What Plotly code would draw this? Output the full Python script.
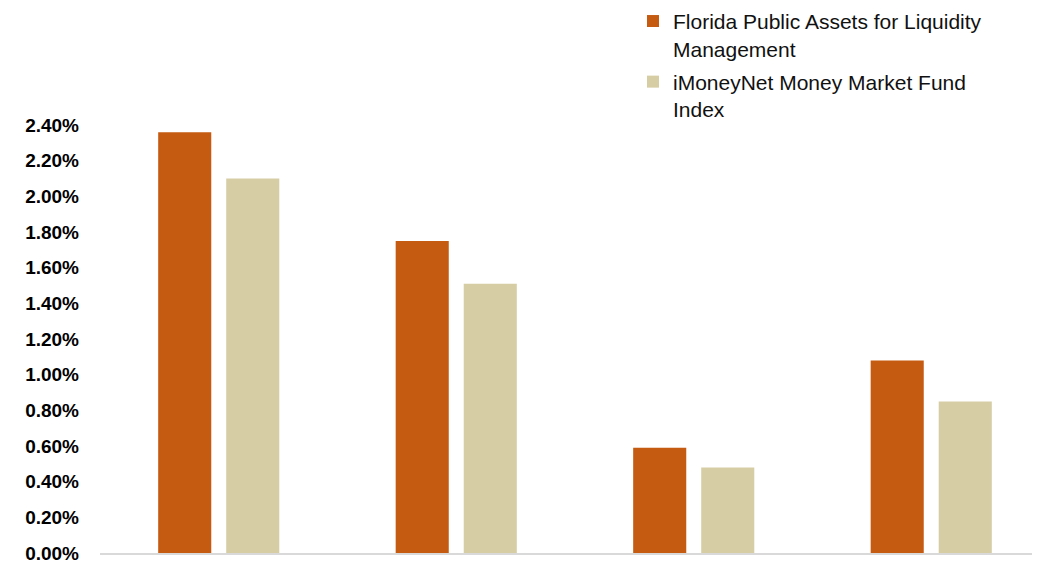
import plotly.graph_objects as go

categories = ["A", "B", "C", "D"]
series_names = ["Florida Public Assets for Liquidity<br>Management",
                "iMoneyNet Money Market Fund<br>Index"]
flpalm = [2.36, 1.75, 0.59, 1.08]
imoney = [2.10, 1.51, 0.48, 0.85]
tick_vals = [0.0, 0.2, 0.4, 0.6, 0.8, 1.0, 1.2, 1.4, 1.6, 1.8, 2.0, 2.2, 2.4]
tick_text = [f"{v:.2f}%" for v in tick_vals]

fig = go.Figure()
fig.add_trace(go.Bar(x=categories, y=flpalm, name=series_names[0],
                     legendgroup="a",
                     marker=dict(color="#C55A11", line=dict(width=0))))
fig.add_trace(go.Bar(x=categories, y=imoney, name=series_names[1],
                     legendgroup="b",
                     marker=dict(color="#D6CDA4", line=dict(width=0))))

fig.update_layout(
    width=1040, height=562,
    margin=dict(l=92, r=8, t=117, b=17, autoexpand=False),
    paper_bgcolor="white", plot_bgcolor="white",
    barmode="group", bargap=0.427, bargroupgap=0.22,
    font=dict(family="Liberation Sans, Arial, sans-serif", color="black"),
    showlegend=True,
    legend=dict(x=0.567, y=1.29, xref="paper", yref="paper",
                xanchor="left", yanchor="top", valign="top",
                font=dict(size=21, color="#111111"),
                bgcolor="rgba(0,0,0,0)", itemwidth=30, tracegroupgap=3),
    xaxis=dict(showticklabels=False, showline=True, linecolor="#d9d9d9",
               linewidth=2, ticks="", showgrid=False, zeroline=False,
               range=[-0.5, 3.458], fixedrange=True),
    yaxis=dict(range=[0, 2.4], tickvals=tick_vals, ticktext=tick_text,
               showgrid=False, zeroline=False, showline=False, ticks="",
               tickfont=dict(size=19, family="Liberation Sans, Arial, sans-serif",
                             color="black", weight="bold"),
               ticklabelstandoff=20, ticklabeloverflow="allow"),
)

fig.write_html("out.html")
